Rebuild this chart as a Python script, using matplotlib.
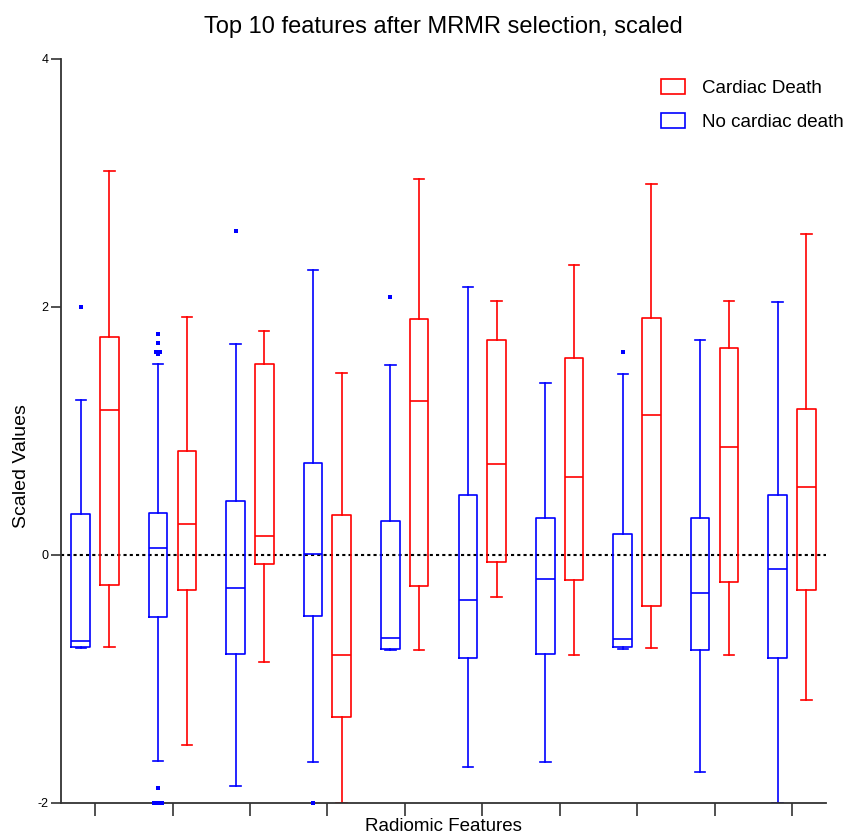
import numpy as np
import matplotlib
matplotlib.use('Agg')
import matplotlib.pyplot as plt
from matplotlib.patches import Patch

plt.rcParams['font.family'] = ['Liberation Sans', 'DejaVu Sans']
plt.rcParams['axes.unicode_minus'] = False

# ten features, two groups each
n_feat = 10

# No cardiac death (blue)
whishi_b = [1.25, 1.54, 1.70, 2.30, 1.53, 2.16, 1.39, 1.46, 1.73, 2.04]
q3_b     = [0.33, 0.34, 0.435, 0.74, 0.27, 0.48, 0.30, 0.17, 0.30, 0.48]
med_b    = [-0.69, 0.06, -0.27, 0.01, -0.67, -0.36, -0.19, -0.68, -0.31, -0.11]
q1_b     = [-0.74, -0.50, -0.80, -0.49, -0.76, -0.83, -0.80, -0.745, -0.77, -0.83]
whislo_b = [-0.75, -1.66, -1.86, -1.67, -0.77, -1.71, -1.67, -0.755, -1.75, -2.00]
fliers_b = [[2.0],
            [1.78, 1.71, 1.64, 1.64, 1.62, -1.88, -2.0, -2.0, -2.0],
            [2.61], [-2.0], [2.08], [], [], [1.64], [], []]

# Cardiac death (red)
whishi_r = [3.10, 1.92, 1.81, 1.47, 3.03, 2.05, 2.34, 2.99, 2.05, 2.59]
q3_r     = [1.76, 0.84, 1.54, 0.32, 1.90, 1.73, 1.59, 1.91, 1.67, 1.18]
med_r    = [1.17, 0.25, 0.15, -0.81, 1.24, 0.73, 0.63, 1.13, 0.87, 0.55]
q1_r     = [-0.24, -0.28, -0.07, -1.31, -0.25, -0.06, -0.20, -0.41, -0.22, -0.28]
whislo_r = [-0.74, -1.53, -0.86, -2.00, -0.77, -0.34, -0.81, -0.75, -0.81, -1.17]
fliers_r = [[] for _ in range(n_feat)]

BLUE = '#0000ff'
RED = '#ff0000'
off = 0.185
bw = 0.24


def make_stats(lo, a, m, b, hi):
    return [dict(whislo=lo[i], q1=a[i], med=m[i], q3=b[i], whishi=hi[i], fliers=[])
            for i in range(len(m))]


def draw(ax, stats, fliers, pos, color):
    props = dict(color=color, linewidth=1.2)
    ax.bxp(stats, positions=pos, widths=bw, capwidths=0.135,
           patch_artist=False, showfliers=False,
           boxprops=props, medianprops=props, whiskerprops=props,
           capprops=props, manage_ticks=False)
    # outliers, equal values spread sideways a bit
    for p, fl in zip(pos, fliers):
        vals, counts = np.unique(np.round(fl, 3), return_counts=True)
        for v, c in zip(vals, counts):
            dx = (np.arange(c) - (c - 1) / 2) * 0.048
            ax.plot(p + dx, [v]*c, 's', color=color, markersize=2.2,
                    markeredgewidth=0, clip_on=False, zorder=5)


fig = plt.figure(figsize=(8.44, 8.34), dpi=100)
ax = fig.add_axes([0.0723, 0.0372, 0.9064, 0.8921])

x = np.arange(n_feat)
draw(ax, make_stats(whislo_b, q1_b, med_b, q3_b, whishi_b), fliers_b, x - off, BLUE)
draw(ax, make_stats(whislo_r, q1_r, med_r, q3_r, whishi_r), fliers_r, x + off, RED)

ax.axhline(0, color='black', linestyle=(0, (1.5, 1.5)), linewidth=1.5, zorder=0)

ax.set_xlim(-0.44, 9.44)
ax.set_ylim(-2, 4)
ax.set_yticks([-2, 0, 2, 4])
ax.set_xticks(x)
ax.set_xticklabels([])
ax.tick_params(axis='y', length=7, width=1.2, labelsize=9, pad=2, color='#333333')
ax.tick_params(axis='x', length=9, width=1.2, color='#333333')

for s in ['top', 'right']:
    ax.spines[s].set_visible(False)
for s in ['left', 'bottom']:
    ax.spines[s].set_linewidth(1.3)
    ax.spines[s].set_color('#333333')

ax.set_title('Top 10 features after MRMR selection, scaled', fontsize=17, pad=19)
ax.set_xlabel('Radiomic Features', fontsize=13.5, labelpad=-2)
ax.set_ylabel('Scaled Values', fontsize=14)
ax.yaxis.set_label_coords(-0.041, 0.453)

handles = [Patch(facecolor='none', edgecolor=RED, linewidth=1.2, label='Cardiac Death'),
           Patch(facecolor='none', edgecolor=BLUE, linewidth=1.2, label='No cardiac death')]
ax.legend(handles=handles, loc='upper right', bbox_to_anchor=(1.045, 0.996),
          frameon=False, fontsize=13.5, handlelength=1.3, handleheight=0.85,
          labelspacing=0.85, handletextpad=0.9)

plt.savefig('out.png', dpi=100)
